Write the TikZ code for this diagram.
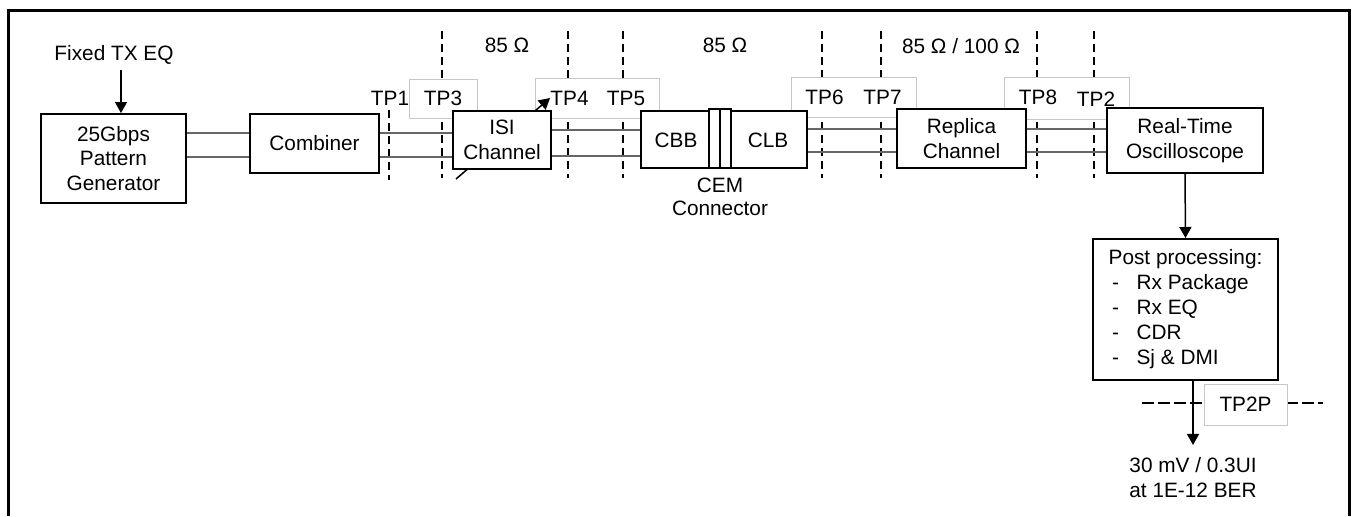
\documentclass[tikz,border=0pt]{standalone}
\usepackage{fontspec}
\setmainfont{Liberation Sans}
\usetikzlibrary{arrows.meta}
\begin{document}
\begin{tikzpicture}[x=0.5pt,y=-0.5pt,
  every node/.style={font=\fontsize{10.4}{12.3}\selectfont, inner sep=0pt},
  blk/.style={draw=black, line width=1pt, fill=white, align=center},
  sig/.style={draw=black!60, line width=0.8pt},
  tpline/.style={draw=black, line width=1pt, dash pattern=on 4pt off 2.5pt},
  hline/.style={draw=black, line width=0.8pt, dash pattern=on 6pt off 2pt},
  tpbox/.style={draw=black!22, line width=0.5pt, fill=white},
  arr/.style={-{Triangle[length=5.5pt,width=6pt]}, line width=0.75pt},
]
\useasboundingbox (0,0) rectangle (1353,516);
% frame
\draw[line width=1.5pt] (8,516) -- (8,10) -- (1349,10) -- (1349,516);

% test point guide lines
\draw[tpline] (389,110) -- (389,180);
\foreach \x in {442,568,623,822,881,1037,1094}
  \draw[tpline] (\x,31) -- (\x,178);
\draw[hline] (1142,403) -- (1323,403);

% test point label boxes
\node[tpbox, minimum width=34pt, minimum height=19.5pt] (b3) at (443,98.5) {TP3};
\node[tpbox, minimum width=62pt, minimum height=20pt] (b45) at (597,98) {};
\node (tp4) at (569.5,98) {TP4};
\node (tp5) at (626,98) {TP5};
\node[tpbox, minimum width=62.5pt, minimum height=20pt] (b67) at (853.5,97) {};
\node (tp6) at (824.5,97) {TP6};
\node (tp7) at (882.5,97) {TP7};
\node[tpbox, minimum width=62.5pt, minimum height=21pt] (b82) at (1066.5,98) {};
\node (tp8) at (1038,97) {TP8};
\node (tp2) at (1096,99) {TP2};
\node[tpbox, minimum width=41.5pt, minimum height=20.5pt] (b2p) at (1245.5,404.5) {TP2P};
\node (tp1) at (390,98) {TP1};

% impedance labels
\node (z1) at (507,45) {85 Ω};
\node (z2) at (725,45) {85 Ω};
\node (z3) at (961,46) {85 Ω / 100 Ω};

% levels of the signal pairs
\coordinate (yA) at (0,133);
\coordinate (yB) at (0,157);
\coordinate (yC) at (0,130);
\coordinate (yD) at (0,156);
\coordinate (yE) at (0,129);
\coordinate (yF) at (0,152);

% blocks (placed first so the lines can refer to them; drawn on top later)
\node (fixed) at (114,55) {Fixed TX EQ};
\coordinate (fxa) at (121,70);
\coordinate (isiA) at (456,179);
\coordinate (isiB) at (550,98);

\path node[minimum width=72.5pt, minimum height=44.5pt] (pg) at (113.5,158.5) {}
      node[minimum width=64.5pt, minimum height=29.5pt] (comb) at (314.5,143.5) {}
      node[minimum width=49pt, minimum height=29pt] (isi) at (502,140) {}
      node[minimum width=83pt, minimum height=28.5pt] (cc) at (724,139.5) {}
      node[minimum width=64.5pt, minimum height=29.5pt] (rep) at (961.5,138.5) {}
      node[minimum width=78pt, minimum height=32.5pt] (osc) at (1185,140.5) {};

% signal lines
\draw[sig] (pg.east |- yA) -- (comb.west |- yA);
\draw[sig] (pg.east |- yB) -- (comb.west |- yB);
\draw[sig] (comb.east |- yA) -- (isi.west |- yA);
\draw[sig] (comb.east |- yB) -- (isi.west |- yB);
\draw[sig] (isi.east |- yC) -- (cc.west |- yC);
\draw[sig] (isi.east |- yD) -- (cc.west |- yD);
\draw[sig] (cc.east |- yE) -- (rep.west |- yE);
\draw[sig] (cc.east |- yF) -- (rep.west |- yF);
\draw[sig] (rep.east |- yE) -- (osc.west |- yE);
\draw[sig] (rep.east |- yF) -- (osc.west |- yF);

% variable ISI arrow
\draw[arr] (isiA) -- (isiB);

% blocks drawn
\node[blk, minimum width=72.5pt, minimum height=44.5pt] (pgb) at (pg) {25Gbps\\Pattern\\Generator};
\node[blk, minimum width=64.5pt, minimum height=29.5pt] (combb) at (comb) {Combiner};
\node[blk, minimum width=49pt, minimum height=29pt] (isib) at (isi) {ISI\\Channel};
\node[blk, minimum width=83pt, minimum height=28.5pt] (ccb) at (cc) {};
\node[blk, minimum width=11pt, minimum height=29.5pt] (cem) at (720,138.5) {};
\draw[line width=0.6pt] (cem.north) -- (cem.south);
\node (cbb) at (676,140) {CBB};
\node (clb) at (768,140) {CLB};
\node[align=center, font=\fontsize{10.4}{11.5}\selectfont] (cemlbl) at (720,197) {CEM\\Connector};
\node[blk, minimum width=64.5pt, minimum height=29.5pt] (repb) at (rep) {Replica\\Channel};
\node[blk, minimum width=78pt, minimum height=32.5pt] (oscb) at (osc) {Real-Time\\Oscilloscope};
\node[blk, align=left, minimum width=92.5pt, minimum height=70.5pt,
      font=\fontsize{10.4}{12.5}\selectfont] (post) at (1185.5,309.5)
  {Post processing:\\
   \makebox[14pt][l]{\hspace{1.75pt}-}Rx Package\\
   \makebox[14pt][l]{\hspace{1.75pt}-}Rx EQ\\
   \makebox[14pt][l]{\hspace{1.75pt}-}CDR\\
   \makebox[14pt][l]{\hspace{1.75pt}-}Sj \& DMI};
\node[align=center, font=\fontsize{10.4}{12.5}\selectfont] (res) at (1193,477.5) {30 mV / 0.3UI\\at 1E-12 BER};

% arrows
\draw[arr] (fxa) -- (fxa |- pgb.north);
\draw[arr] (oscb.south) -- (post.north);
\draw[arr] (post.south -| res.north) -- ([yshift=6pt]res.north);
\end{tikzpicture}
\end{document}
